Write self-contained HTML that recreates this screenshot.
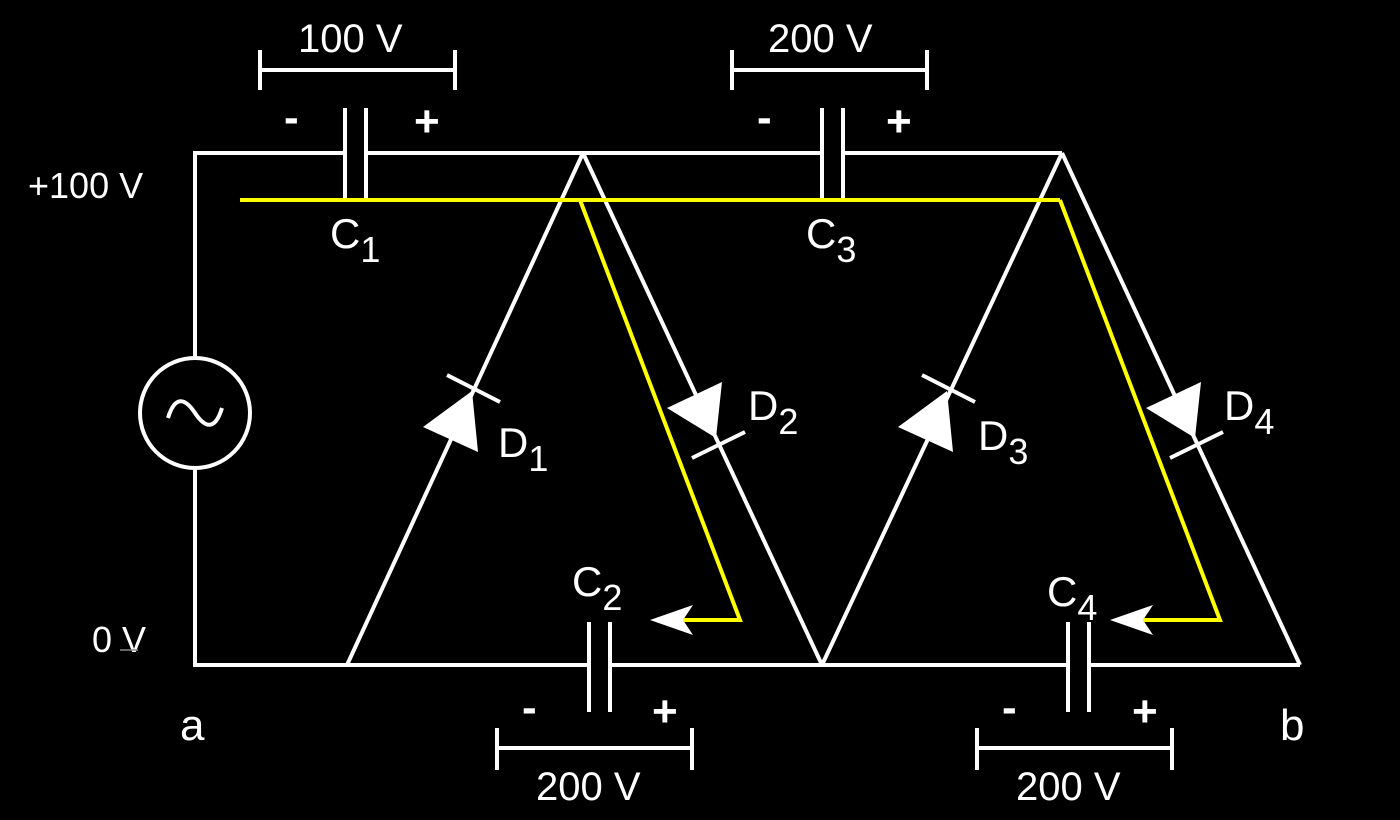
<!DOCTYPE html>
<html><head><style>
html,body{margin:0;padding:0;background:#000;}
svg{display:block}
text{font-family:"Liberation Sans",Arial,sans-serif;fill:#fff}
</style></head><body>
<svg width="1400" height="820" viewBox="0 0 1400 820">
<rect width="1400" height="820" fill="#000"/>
<g stroke="#fff" stroke-width="4" fill="none">
 <polyline points="195,358 195,153 345,153"/>
 <line x1="366" y1="153" x2="822" y2="153"/>
 <line x1="843" y1="153" x2="1062" y2="153"/>
 <polyline points="195,470 195,665 589,665"/>
 <line x1="610" y1="665" x2="1068" y2="665"/>
 <line x1="1089" y1="665" x2="1300" y2="665"/>
 <line x1="345" y1="108" x2="345" y2="198"/><line x1="366" y1="108" x2="366" y2="198"/>
 <line x1="822" y1="108" x2="822" y2="198"/><line x1="843" y1="108" x2="843" y2="198"/>
 <line x1="589" y1="622" x2="589" y2="712"/><line x1="610" y1="622" x2="610" y2="712"/>
 <line x1="1068" y1="622" x2="1068" y2="712"/><line x1="1089" y1="622" x2="1089" y2="712"/>
 <circle cx="195" cy="413" r="55"/>
 <path d="M168,418 C175,395 185,398 195,413 C205,428 215,431 222,408" stroke-width="4"/>
 <line x1="347" y1="665" x2="583" y2="153"/>
 <line x1="583" y1="153" x2="822" y2="665"/>
 <line x1="822" y1="665" x2="1062" y2="153"/>
 <line x1="1062" y1="153" x2="1300" y2="665"/>
 <line x1="447" y1="375" x2="500" y2="402"/>
 <line x1="692" y1="458" x2="745" y2="432"/>
 <line x1="922" y1="375" x2="975" y2="402"/>
 <line x1="1170" y1="458" x2="1223" y2="432"/>
 <path d="M260,50 V90 M260,70 H455 M455,50 V90"/>
 <path d="M732,50 V90 M732,70 H927 M927,50 V90"/>
 <path d="M497,728 V770 M497,748 H692 M692,728 V770"/>
 <path d="M977,728 V770 M977,748 H1172 M1172,728 V770"/>
</g>
<g fill="#fff">
 <polygon points="423,427 472,391 478,452"/>
 <polygon points="667,408 722,382 716,438"/>
 <polygon points="898,427 947,391 953,452"/>
 <polygon points="1146,408 1201,382 1195,438"/>
 <polygon points="650,620 693,605 683,620 693,635"/>
 <polygon points="1110,620 1153,605 1143,620 1153,635"/>
</g>
<g stroke="#ff0" stroke-width="4" fill="none">
 <line x1="240" y1="200" x2="1060" y2="200"/>
 <polyline points="580,200 740,620 683,620"/>
 <polyline points="1060,200 1220,620 1143,620"/>
</g>
<g font-size="40">
 <text x="298" y="52">100 V</text>
 <text x="768" y="52">200 V</text>
 <text x="536" y="800">200 V</text>
 <text x="1016" y="800">200 V</text>
 <g font-size="44" font-weight="bold">
 <text x="284" y="132">-</text><text x="414" y="136">+</text>
 <text x="757" y="132">-</text><text x="886" y="136">+</text>
 <text x="522" y="722">-</text><text x="652" y="726">+</text>
 <text x="1002" y="722">-</text><text x="1132" y="726">+</text>
 </g>
 <text x="28" y="198" font-size="36">+100 V</text>
 <text x="92" y="652" font-size="36">0 V</text>
 <text x="180" y="740" font-size="44">a</text>
 <text x="1280" y="740" font-size="44">b</text>
 <g font-size="42">
 <text x="330" y="248">C<tspan font-size="36" dy="14">1</tspan></text>
 <text x="806" y="248">C<tspan font-size="36" dy="14">3</tspan></text>
 <text x="572" y="596">C<tspan font-size="36" dy="14">2</tspan></text>
 <text x="1047" y="606">C<tspan font-size="36" dy="14">4</tspan></text>
 <text x="498" y="457">D<tspan font-size="36" dy="14">1</tspan></text>
 <text x="748" y="420">D<tspan font-size="36" dy="14">2</tspan></text>
 <text x="978" y="450">D<tspan font-size="36" dy="14">3</tspan></text>
 <text x="1224" y="420">D<tspan font-size="36" dy="14">4</tspan></text>
 </g>
</g>
<line x1="120" y1="650" x2="138" y2="650" stroke="#888" stroke-width="1.5"/>
</svg>
</body></html>
